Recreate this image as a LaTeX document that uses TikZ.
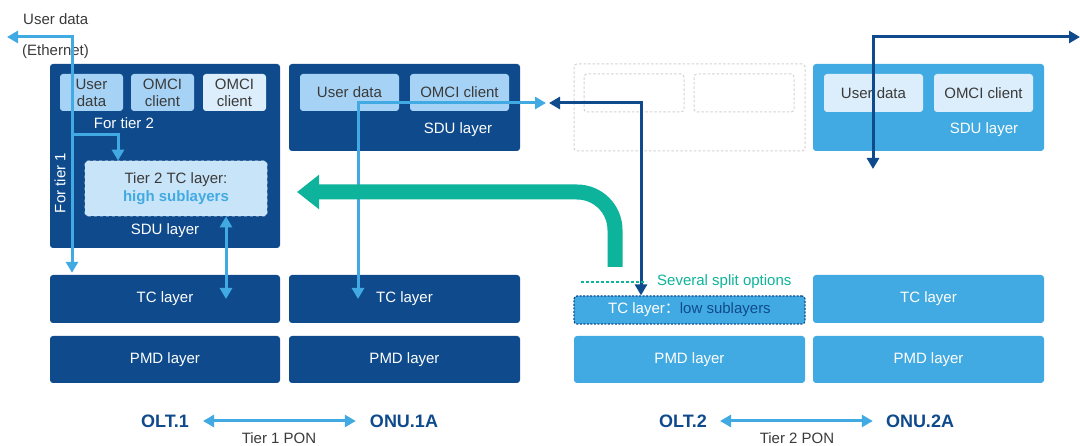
\documentclass[tikz,border=0pt]{standalone}
\usepackage{fontspec}
\setmainfont{Liberation Sans}
\newfontfamily\cjk{Noto Sans CJK SC}
\usetikzlibrary{arrows.meta}
\definecolor{dkblue}{HTML}{0F4B8C}
\definecolor{mdblue}{HTML}{42AAE2}
\definecolor{lblue}{HTML}{A6D3F5}
\definecolor{llblue}{HTML}{DCEEFB}
\definecolor{tealc}{HTML}{0DB39A}
\definecolor{tiertwo}{HTML}{C8E4F8}
\definecolor{txtgray}{HTML}{3A3A3A}
\definecolor{dashgray}{HTML}{D2D2D2}
\tikzset{
  box/.style={rectangle, rounded corners=3pt, inner sep=0pt, draw=none},
  dkbox/.style={box, fill=dkblue},
  mdbox/.style={box, fill=mdblue},
  ghost/.style={box, draw=dashgray, dashed, line width=1pt, dash pattern=on 2.5pt off 2pt},
  inner/.style={box, font=\fontsize{15}{17}\selectfont, text=txtgray, align=center},
  wlabel/.style={font=\fontsize{15}{17}\selectfont, text=white, inner sep=0pt},
  tlabel/.style={font=\fontsize{18}{20}\selectfont\bfseries, text=dkblue, inner sep=0pt},
  glabel/.style={font=\fontsize{15}{17}\selectfont, text=txtgray, inner sep=0pt},
  lbarrow/.style={draw=mdblue, line width=3pt, -{Triangle[length=11pt,width=12pt]}},
  lbboth/.style={draw=mdblue, line width=3pt, {Triangle[length=11pt,width=12pt]}-{Triangle[length=11pt,width=12pt]}},
  dbboth/.style={draw=dkblue, line width=3pt, {Triangle[length=11pt,width=12pt]}-{Triangle[length=11pt,width=12pt]}},
}
\begin{document}
\begin{tikzpicture}[x=1pt,y=-1pt]
\useasboundingbox (0,0) rectangle (1080,446);

% ---------- OLT.1 ----------
\node[dkbox, minimum width=230pt, minimum height=184pt] (sdu1) at (165,156) {};
\node[inner, fill=lblue, minimum width=63pt, minimum height=37pt] (ud1) at (91.5,92.5) {User\\data};
\node[inner, fill=lblue, minimum width=63pt, minimum height=37pt] (om1) at (162.5,92.5) {OMCI\\client};
\node[inner, fill=llblue, minimum width=63pt, minimum height=37pt] (om1b) at (234.5,92.5) {OMCI\\client};
\node[wlabel] (ft2) at (124,123) {For tier 2};
\node[box, fill=tiertwo, draw=llblue, dashed, line width=0.8pt, minimum width=182pt, minimum height=55pt] (t2tc) at (176,188.5) {};
\node[glabel, align=center] (t2tct) at (176,188.5) {Tier 2 TC layer:\\[1pt]{\color{mdblue}\bfseries high sublayers}};
\node[wlabel] (sdu1l) at (165,231) {SDU layer};
\node[wlabel, rotate=90] (ft1) at (60,183) {For tier 1};
\node[dkbox, minimum width=230pt, minimum height=48pt] (tc1) at (165,299) {};
\node[wlabel] at (tc1) {TC layer};
\node[dkbox, minimum width=230pt, minimum height=47pt] (pmd1) at (165,359.5) {};
\node[wlabel] at (pmd1) {PMD layer};

% ---------- ONU.1A ----------
\node[dkbox, minimum width=231pt, minimum height=87pt] (sdu2) at (404.5,107.5) {};
\node[inner, fill=lblue, minimum width=99pt, minimum height=37pt] (ud2) at (349.5,92.5) {User data};
\node[inner, fill=lblue, minimum width=99pt, minimum height=37pt] (om2) at (459.5,92.5) {OMCI client};
\node[wlabel] (sdu2l) at (458,130) {SDU layer};
\node[dkbox, minimum width=231pt, minimum height=48pt] (tc2) at (404.5,299) {};
\node[wlabel] at (tc2) {TC layer};
\node[dkbox, minimum width=231pt, minimum height=47pt] (pmd2) at (404.5,359.5) {};
\node[wlabel] at (pmd2) {PMD layer};

% ---------- OLT.2 ----------
\node[ghost, minimum width=231pt, minimum height=87pt] (sdu3) at (689.5,107.5) {};
\node[ghost, minimum width=100pt, minimum height=38pt] (g1) at (634,93) {};
\node[ghost, minimum width=100pt, minimum height=38pt] (g2) at (744,93) {};
\node[box, fill=mdblue, draw=dkblue, dashed, line width=1.2pt, dash pattern=on 2pt off 1.5pt, minimum width=231pt, minimum height=28pt] (tc3) at (689.5,310) {};
\node[wlabel] at (tc3) {TC layer{\cjk ：}{\color{dkblue}low sublayers}};
\node[mdbox, minimum width=231pt, minimum height=47pt] (pmd3) at (689.5,359.5) {};
\node[wlabel] at (pmd3) {PMD layer};

% ---------- ONU.2A ----------
\node[mdbox, minimum width=231pt, minimum height=87pt] (sdu4) at (928.5,107.5) {};
\node[inner, fill=llblue, minimum width=99pt, minimum height=38pt] (ud4) at (873.5,93) {User data};
\node[inner, fill=llblue, minimum width=99pt, minimum height=38pt] (om4) at (983.5,93) {OMCI client};
\node[wlabel] (sdu4l) at (984,130) {SDU layer};
\node[mdbox, minimum width=231pt, minimum height=48pt] (tc4) at (928.5,299) {};
\node[wlabel] at (tc4) {TC layer};
\node[mdbox, minimum width=231pt, minimum height=47pt] (pmd4) at (928.5,359.5) {};
\node[wlabel] at (pmd4) {PMD layer};

% ---------- top-left labels ----------
\node[glabel, anchor=west] (udt) at (23,19) {User data};
\node[glabel, anchor=west] (eth) at (22,52) {(Ethernet)};

% ---------- connectors ----------
\coordinate (ueth) at (7,37);
\coordinate (c1) at (72,37);
\coordinate (c2) at (72,135);
\coordinate (c3) at (118,135);
\draw[lbboth] (ueth) -- (c1) -- ([yshift=2pt]c1 |- tc1.north);
\draw[lbarrow] (c2) -- (c3) -- (c3 |- t2tc.north);
\coordinate (c4) at (226,0);
\draw[lbboth] (c4 |- t2tc.south) -- (c4 |- tc1.center);

\coordinate (c5) at (358,103);
\coordinate (mid) at (546,103);
\draw[lbboth] (c5 |- tc2.center) -- (c5) -- (mid);

\coordinate (mid2) at (549,103);
\coordinate (c6) at (641,103);
\draw[dbboth] (mid2) -- (c6) -- (c6 |- tc3.north);

\coordinate (c7) at (873,37);
\coordinate (c8) at (873,169);
\coordinate (rout) at (1080,37);
\draw[dbboth] (c8) -- (c7) -- (rout);

% teal split arrow
\coordinate (ts) at (615,267);
\coordinate (tc) at (615,192);
\coordinate (te) at (297,192);
\draw[tealc, line width=15pt, rounded corners=38pt, -{Triangle[length=22pt,width=33pt]}] (ts) -- (tc) -- (te);

\coordinate (sp1) at (581,282);
\coordinate (sp2) at (646,282);
\draw[tealc, line width=1.5pt, dash pattern=on 3pt off 2pt] (sp1) -- (sp2);
\node[font=\fontsize{15}{17}\selectfont, text=tealc, anchor=west, inner sep=0pt] (split) at (657,282) {Several split options};

% ---------- bottom labels ----------
\node[tlabel] (olt1) at (165,421) {OLT.1};
\node[tlabel] (onu1) at (404,421) {ONU.1A};
\draw[lbboth] ([xshift=14pt]olt1.east) -- ([xshift=-14pt]onu1.west);
\node[glabel] (pon1) at (279,438) {Tier 1 PON};

\node[tlabel] (olt2) at (683,421) {OLT.2};
\node[tlabel] (onu2) at (920,421) {ONU.2A};
\draw[lbboth] ([xshift=13pt]olt2.east) -- ([xshift=-13pt]onu2.west);
\node[glabel] (pon2) at (797,438) {Tier 2 PON};
\end{tikzpicture}
\end{document}
